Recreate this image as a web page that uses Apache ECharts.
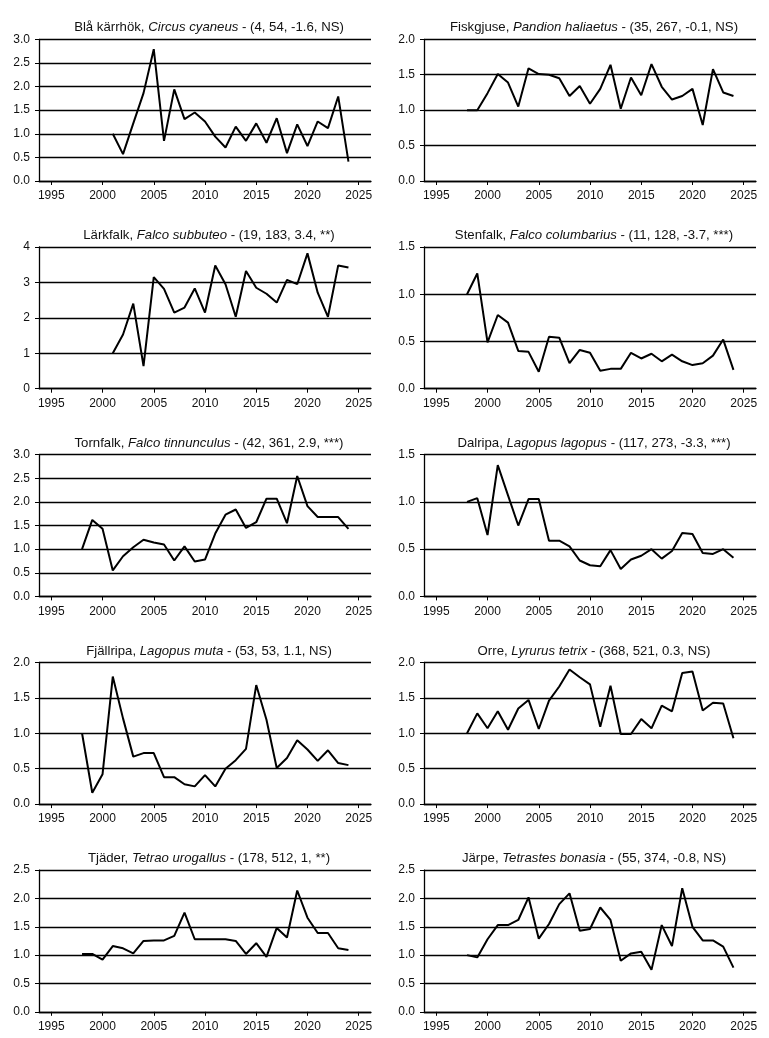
<!DOCTYPE html>
<html><head><meta charset="utf-8">
<script src="https://cdn.jsdelivr.net/npm/echarts@6/dist/echarts.min.js"></script>
<style>html,body{margin:0;padding:0;background:#fff}#c{width:769px;height:1038px}</style>
</head><body><div id="c"></div>
<script>
const years = [1998,1999,2000,2001,2002,2003,2004,2005,2006,2007,2008,2009,2010,2011,2012,2013,2014,2015,2016,2017,2018,2019,2020,2021,2022,2023,2024];
const xTicks = [1995,2000,2005,2010,2015,2020,2025];

const blaKarrhok = [null,null,null,1.0,0.57,1.22,1.86,2.79,0.85,1.94,1.31,1.45,1.26,0.94,0.71,1.15,0.85,1.22,0.81,1.33,0.59,1.2,0.74,1.26,1.12,1.79,0.41];
const fiskgjuse = [1.0,1.0,1.24,1.51,1.39,1.05,1.59,1.51,1.50,1.45,1.2,1.34,1.09,1.30,1.64,1.02,1.46,1.21,1.65,1.33,1.15,1.2,1.30,0.79,1.58,1.25,1.2];
const larkfalk = [null,null,null,1.0,1.53,2.4,0.64,3.15,2.82,2.15,2.29,2.83,2.15,3.48,2.95,2.03,3.32,2.85,2.68,2.43,3.07,2.95,3.82,2.71,2.03,3.48,3.42];
const stenfalk = [1.0,1.22,0.49,0.78,0.70,0.40,0.39,0.18,0.55,0.54,0.27,0.41,0.38,0.19,0.21,0.21,0.38,0.32,0.37,0.29,0.36,0.29,0.25,0.27,0.35,0.52,0.2];
const tornfalk = [1.0,1.62,1.43,0.55,0.85,1.04,1.2,1.14,1.10,0.76,1.06,0.74,0.78,1.33,1.73,1.84,1.45,1.57,2.07,2.07,1.55,2.55,1.91,1.68,1.68,1.68,1.43];
const dalripa = [1.0,1.04,0.65,1.39,1.07,0.75,1.03,1.03,0.59,0.59,0.53,0.38,0.33,0.32,0.49,0.29,0.39,0.43,0.5,0.40,0.48,0.67,0.66,0.46,0.45,0.5,0.41];
const fjallripa = [1.0,0.16,0.42,1.80,1.21,0.67,0.72,0.72,0.38,0.38,0.28,0.25,0.41,0.25,0.5,0.62,0.78,1.68,1.19,0.51,0.65,0.9,0.77,0.61,0.76,0.58,0.55];
const orre = [1.0,1.28,1.07,1.31,1.05,1.35,1.47,1.06,1.46,1.66,1.9,1.79,1.69,1.09,1.67,0.99,0.99,1.2,1.07,1.39,1.31,1.85,1.87,1.32,1.43,1.42,0.93];
const tjader = [1.02,1.02,0.92,1.16,1.12,1.03,1.25,1.26,1.26,1.34,1.75,1.28,1.28,1.28,1.28,1.25,1.02,1.21,0.97,1.48,1.31,2.14,1.66,1.39,1.39,1.12,1.09];
const jarpe = [1.0,0.96,1.28,1.53,1.53,1.62,2.02,1.29,1.55,1.90,2.09,1.43,1.46,1.84,1.62,0.9,1.03,1.06,0.74,1.53,1.16,2.18,1.5,1.26,1.26,1.15,0.78];

const names = ['Blå kärrhök','Fiskgjuse','Lärkfalk','Stenfalk','Tornfalk','Dalripa','Fjällripa','Orre','Tjäder','Järpe'];
const sciNames = ['Circus cyaneus','Pandion haliaetus','Falco subbuteo','Falco columbarius','Falco tinnunculus','Lagopus lagopus','Lagopus muta','Lyrurus tetrix','Tetrao urogallus','Tetrastes bonasia'];
const stats = ['(4, 54, -1.6, NS)','(35, 267, -0.1, NS)','(19, 183, 3.4, **)','(11, 128, -3.7, ***)','(42, 361, 2.9, ***)','(117, 273, -3.3, ***)','(53, 53, 1.1, NS)','(368, 521, 0.3, NS)','(178, 512, 1, **)','(55, 374, -0.8, NS)'];
const seriesValues = [blaKarrhok,fiskgjuse,larkfalk,stenfalk,tornfalk,dalripa,fjallripa,orre,tjader,jarpe];
const yMaxes = [3,2,4,1.5,3,1.5,2,2,2.5,2.5];
const yIntervals = [0.5,0.5,1,0.5,0.5,0.5,0.5,0.5,0.5,0.5];
const yDecimals = [1,1,0,1,1,1,1,1,1,1];

const chart = echarts.init(document.getElementById('c'), null, {renderer:'canvas'});
const colLeft = [39, 424];
const gW = 332, gH = 141.7, top0 = 39.3, rowStep = 207.7;
const FONT = 'Liberation Sans, Arial, sans-serif';
const grids=[], xAxes=[], yAxes=[], series=[], titles=[];
for (let i=0;i<10;i++){
  const r = Math.floor(i/2), c = i%2;
  const top = top0 + r*rowStep;
  grids.push({left:colLeft[c], top:top, width:gW, height:gH, containLabel:false});
  titles.push({
    text:'{a|'+names[i]+', }{b|'+sciNames[i]+'}{a| - '+stats[i]+'}',
    left: colLeft[c] + gW/2 - 1, top: top - 23, textAlign:'center',
    textStyle:{fontWeight:'normal',rich:{
      a:{fontFamily:FONT,fontSize:13.2,color:'#111',fontWeight:'normal'},
      b:{fontFamily:FONT,fontSize:13.2,color:'#111',fontStyle:'italic',fontWeight:'normal'}
    }}
  });
  xAxes.push({
    type:'value', gridIndex:i, min:1993.8, max:2026.2,
    axisLine:{show:true,onZero:false,lineStyle:{color:'#000',width:1.3}},
    axisTick:{show:true,customValues:xTicks,length:4,lineStyle:{color:'#000',width:1}},
    axisLabel:{customValues:xTicks,color:'#111',fontFamily:FONT,fontSize:12,margin:9,formatter:v=>String(v)},
    splitLine:{show:false}
  });
  const d = yDecimals[i];
  yAxes.push({
    type:'value', gridIndex:i, min:0, max:yMaxes[i], interval:yIntervals[i],
    axisLine:{show:true,lineStyle:{color:'#000',width:1.3}},
    axisTick:{show:true,length:4,lineStyle:{color:'#000',width:1}},
    axisLabel:{color:'#111',fontFamily:FONT,fontSize:12,margin:9,formatter:v=>v.toFixed(d)},
    splitLine:{show:true,lineStyle:{color:'#000',width:1.3}}
  });
  series.push({
    type:'line', xAxisIndex:i, yAxisIndex:i, showSymbol:false, symbol:'none',
    lineStyle:{color:'#000',width:2}, connectNulls:false,
    data: years.map((y,k)=>[y, seriesValues[i][k]]).filter(p=>p[1]!==null)
  });
}
chart.setOption({animation:false, backgroundColor:'#fff', title:titles, grid:grids, xAxis:xAxes, yAxis:yAxes, series:series});
</script></body></html>
